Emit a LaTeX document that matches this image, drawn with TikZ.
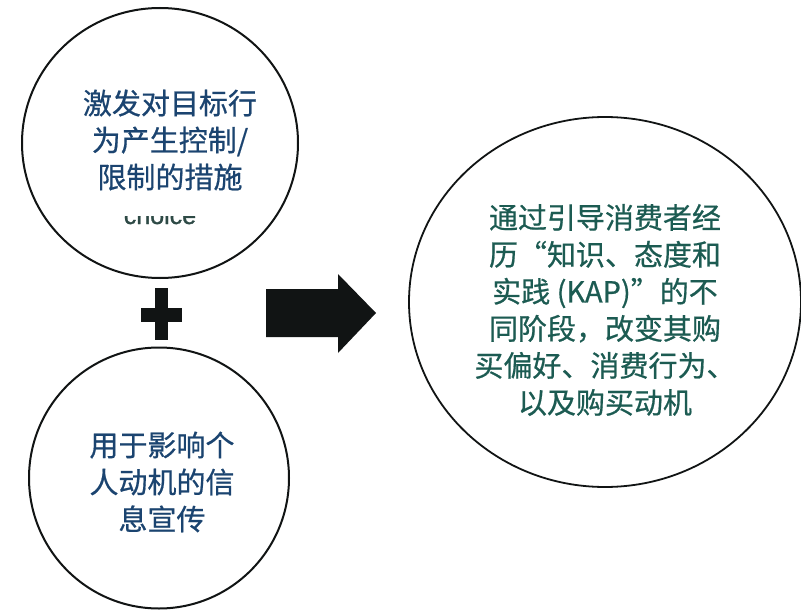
\documentclass[tikz,border=0pt]{standalone}
\usepackage{fontspec}
\setmainfont{Noto Sans CJK SC}[BoldFont={Noto Sans CJK SC}, BoldFeatures={FakeBold=0.6}]
\setsansfont{Liberation Sans}[BoldFont={Liberation Sans}, BoldFeatures={FakeBold=1.2}]
\usetikzlibrary{shapes.geometric}
\definecolor{navytext}{HTML}{1B4470}
\definecolor{tealtext}{HTML}{1C5B52}
\definecolor{ghosttext}{HTML}{2E4A46}
\definecolor{ink}{HTML}{111414}
\tikzset{
  ring/.style={draw=ink, line width=2pt, ellipse, inner sep=0pt},
  cjktext/.style={align=center, font=\bfseries\fontsize{29}{37}\selectfont, inner sep=0pt},
  solidmark/.style={fill=ink, draw=none}
}
\begin{document}
\begin{tikzpicture}[x=1pt,y=-1pt]
\useasboundingbox[fill=white] (0,0) rectangle (801,610);
% circles
\node[ring, minimum width=276pt, minimum height=270pt] (topc) at (160,143) {};
\node[ring, minimum width=260pt, minimum height=261pt] (botc) at (159,478) {};
\node[ring, line width=1.8pt, minimum width=392pt, minimum height=370pt] (rightc) at (605,302) {};
% ghost text remnant
\node[font=\sffamily\bfseries\fontsize{25}{30}\selectfont, text=ghosttext, anchor=base, inner sep=0pt] (ghost) at (160,224) {choice};
% main texts
\node[cjktext, text=navytext, fill=white, minimum width=195pt, minimum height=152pt] (toptext) at (170,140)
  {激发对目标行\\为产生控制/\\限制的措施};
\node[cjktext, text=navytext] (bottext) at (162,482)
  {用于影响个\\人动机的信\\息宣传};
\node[cjktext, text=tealtext] (righttext) at (605,310)
  {通过引导消费者经\\历“知识、态度和\\实践 (KAP)”的不\\同阶段，改变其购\\买偏好、消费行为、\\以及购买动机};
% plus sign
\fill[solidmark] (155,288) rectangle (168,340);
\fill[solidmark] (141,308) rectangle (182,322);
% big arrow
\fill[solidmark] (266,289) -- (338,289) -- (338,274) -- (376,313) -- (338,353) -- (338,337) -- (266,337) -- cycle;
\end{tikzpicture}
\end{document}
